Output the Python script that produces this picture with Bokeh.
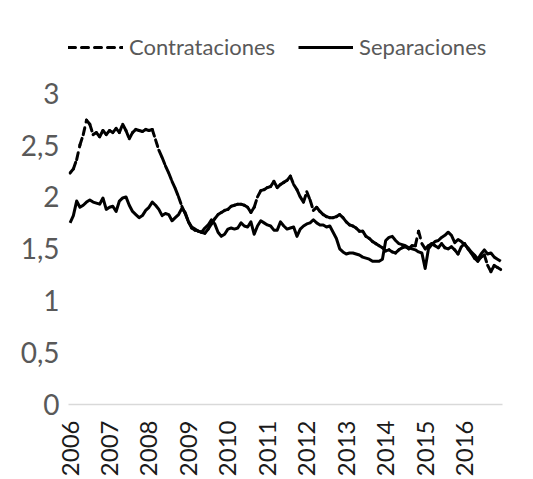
import math
from bokeh.plotting import figure
from bokeh.models import Range1d, FixedTicker, CustomJSTickFormatter, Legend, LegendItem, ColumnDataSource
from bokeh.embed import file_html
from bokeh.resources import INLINE

years = [2006, 2007, 2008, 2009, 2010, 2011, 2012, 2013, 2014, 2015, 2016]
y_ticks = [0, 0.5, 1, 1.5, 2, 2.5, 3]

contrataciones = [
    2.23, 2.27, 2.36, 2.50, 2.60, 2.74, 2.70, 2.60, 2.62, 2.58, 2.64, 2.60,  # 2006
    2.64, 2.62, 2.66, 2.62, 2.70, 2.64, 2.56, 2.62, 2.65, 2.64, 2.63, 2.65,  # 2007
    2.64, 2.65, 2.55, 2.45, 2.38, 2.30, 2.23, 2.15, 2.08, 2.00, 1.91, 1.84,  # 2008
    1.76, 1.70, 1.68, 1.67, 1.66, 1.65, 1.69, 1.74, 1.79, 1.83, 1.85, 1.87,  # 2009
    1.88, 1.91, 1.92, 1.93, 1.93, 1.92, 1.90, 1.85, 1.90, 2.00, 2.06, 2.07,  # 2010
    2.09, 2.10, 2.15, 2.09, 2.12, 2.14, 2.16, 2.20, 2.12, 2.07, 2.00, 1.95,  # 2011
    2.05, 1.97, 1.87, 1.90, 1.86, 1.83, 1.81, 1.80, 1.80, 1.81, 1.83, 1.80,  # 2012
    1.76, 1.73, 1.72, 1.70, 1.67, 1.67, 1.62, 1.60, 1.57, 1.55, 1.53, 1.51,  # 2013
    1.48, 1.49, 1.47, 1.46, 1.49, 1.51, 1.52, 1.50, 1.53, 1.53, 1.67, 1.55,  # 2014
    1.50, 1.53, 1.55, 1.53, 1.51, 1.55, 1.51, 1.50, 1.52, 1.49, 1.45, 1.52,  # 2015
    1.55, 1.50, 1.46, 1.41, 1.38, 1.42, 1.44, 1.34, 1.28, 1.34, 1.32, 1.30,  # 2016
]

separaciones = [
    1.75, 1.82, 1.96, 1.90, 1.92, 1.95, 1.97, 1.95, 1.94, 1.93, 1.99, 1.88,  # 2006
    1.90, 1.91, 1.86, 1.96, 1.99, 2.00, 1.92, 1.86, 1.83, 1.80, 1.82, 1.87,  # 2007
    1.90, 1.95, 1.92, 1.88, 1.82, 1.84, 1.83, 1.77, 1.80, 1.83, 1.89, 1.85,  # 2008
    1.76, 1.71, 1.69, 1.67, 1.66, 1.70, 1.73, 1.78, 1.74, 1.66, 1.62, 1.64,  # 2009
    1.69, 1.70, 1.69, 1.70, 1.75, 1.72, 1.71, 1.76, 1.64, 1.72, 1.77, 1.75,  # 2010
    1.73, 1.72, 1.68, 1.68, 1.76, 1.72, 1.69, 1.70, 1.71, 1.62, 1.69, 1.72,  # 2011
    1.74, 1.75, 1.78, 1.75, 1.73, 1.73, 1.71, 1.72, 1.66, 1.60, 1.50, 1.47,  # 2012
    1.45, 1.46, 1.46, 1.45, 1.44, 1.42, 1.41, 1.40, 1.38, 1.38, 1.38, 1.40,  # 2013
    1.58, 1.61, 1.62, 1.58, 1.55, 1.54, 1.53, 1.51, 1.50, 1.49, 1.47, 1.46,  # 2014
    1.31, 1.50, 1.54, 1.57, 1.58, 1.61, 1.63, 1.66, 1.63, 1.56, 1.59, 1.57,  # 2015
    1.54, 1.51, 1.47, 1.44, 1.40, 1.45, 1.49, 1.45, 1.46, 1.42, 1.40, 1.38,  # 2016
]

x = [years[0] + i / 12 for i in range(len(contrataciones))]
source = ColumnDataSource(dict(x=x, s=separaciones))
# dashed series drawn segment by segment so the dash pattern restarts at each point
seg_source = ColumnDataSource(dict(
    xs=[[x[i], x[i + 1]] for i in range(len(x) - 1)],
    ys=[[contrataciones[i], contrataciones[i + 1]] for i in range(len(x) - 1)],
))

FONT = "Lato"
GRAY = "#595959"

# frame extends above the value 3 so the legend can sit at the top inside it
FRAME_TOP, FRAME_H = 20, 386
y_top = y_ticks[-1] * FRAME_H / 313.0

p = figure(width=533, height=479, output_backend="svg", toolbar_location=None,
           x_range=Range1d(2005.96, 2016.96), y_range=Range1d(0, y_top),
           min_border_left=68, min_border_right=31, min_border_top=FRAME_TOP, min_border_bottom=73)
p.outline_line_color = None
p.xgrid.visible = False
p.ygrid.visible = False
p.background_fill_color = "white"
p.border_fill_color = "white"

r_c = p.multi_line("xs", "ys", source=seg_source, line_color="black", line_width=3,
                   line_dash="7 6", line_cap="round")
r_s = p.line("x", "s", source=source, line_color="black", line_width=3,
             line_join="round")

# y axis
p.yaxis.ticker = FixedTicker(ticks=y_ticks)
p.yaxis.formatter = CustomJSTickFormatter(code="return tick.toString().replace('.', ',');")
p.yaxis.axis_line_color = None
p.yaxis.major_tick_line_color = None
p.yaxis.minor_tick_line_color = None
p.yaxis.major_tick_out = 0
p.yaxis.major_label_standoff = 9
p.yaxis.major_label_text_font = FONT
p.yaxis.major_label_text_font_size = "28px"
p.yaxis.major_label_text_color = GRAY

# x axis
p.xaxis.ticker = FixedTicker(ticks=years)
p.xaxis.formatter = CustomJSTickFormatter(code="return tick.toFixed(0);")
p.xaxis.axis_line_color = "#d9d9d9"
p.xaxis.axis_line_width = 1.5
p.xaxis.major_tick_line_color = None
p.xaxis.minor_tick_line_color = None
p.xaxis.major_tick_out = 0
p.xaxis.major_label_standoff = 16
p.xaxis.major_label_orientation = math.pi / 2
p.xaxis.major_label_text_font = FONT
p.xaxis.major_label_text_font_size = "24px"
p.xaxis.major_label_text_color = "#1a1a1a"

legend = Legend(items=[LegendItem(label="Contrataciones", renderers=[r_c]),
                       LegendItem(label="Separaciones", renderers=[r_s])],
                orientation="horizontal", location=(0, FRAME_H - 42),
                glyph_width=55, glyph_height=26, label_standoff=6, spacing=23,
                padding=0, margin=0, border_line_color=None, background_fill_alpha=0,
                label_text_font=FONT, label_text_font_size="22px", label_text_color=GRAY)
p.add_layout(legend, "center")

open("out.html", "w").write(file_html(p, INLINE))
